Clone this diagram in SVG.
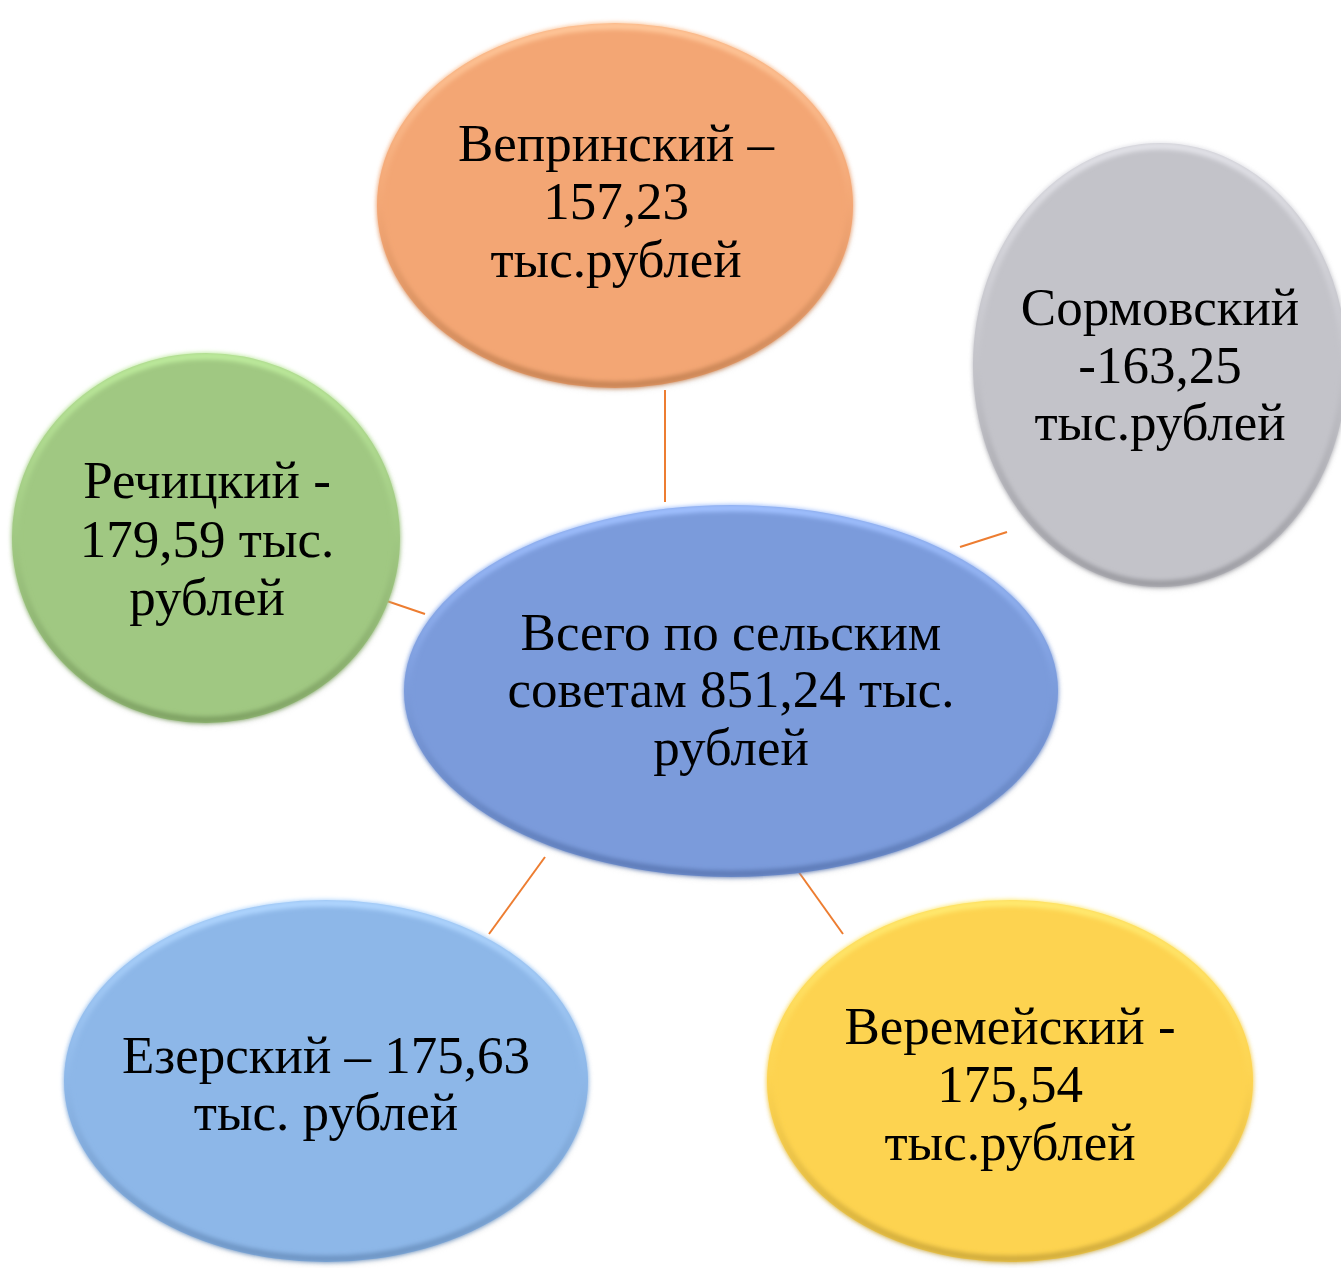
<svg xmlns="http://www.w3.org/2000/svg" width="1341" height="1268" viewBox="0 0 1341 1268">
<style>
  .lbl { font-family: "Liberation Serif", "Times New Roman", serif; font-size: 53px; fill: #000; text-anchor: middle; }
  .conn { stroke: #ED7D31; stroke-width: 2; fill: none; }
  .rim { fill: none; stroke-width: 7; filter: url(#soft); }
</style>
<defs>
  <filter id="soft" x="-10%" y="-10%" width="120%" height="120%"><feGaussianBlur stdDeviation="2.2"/></filter>
  <filter id="shadow" x="-10%" y="-10%" width="120%" height="125%"><feGaussianBlur stdDeviation="3"/></filter>
  <linearGradient id="rimOrange" x1="0" y1="0" x2="0" y2="1"><stop offset="0" stop-color="#FFC79A"/><stop offset="0.5" stop-color="#F3A674"/><stop offset="1" stop-color="#C98556"/></linearGradient>
  <linearGradient id="rimGray" x1="0" y1="0" x2="0" y2="1"><stop offset="0" stop-color="#E2E2E8"/><stop offset="0.5" stop-color="#C3C3C9"/><stop offset="1" stop-color="#9C9CA2"/></linearGradient>
  <linearGradient id="rimGreen" x1="0" y1="0" x2="0" y2="1"><stop offset="0" stop-color="#BDEB9C"/><stop offset="0.5" stop-color="#A0C882"/><stop offset="1" stop-color="#7FA264"/></linearGradient>
  <linearGradient id="rimBlue" x1="0" y1="0" x2="0" y2="1"><stop offset="0" stop-color="#A0C0FF"/><stop offset="0.5" stop-color="#7B9BDB"/><stop offset="1" stop-color="#5E7CB8"/></linearGradient>
  <linearGradient id="rimLBlue" x1="0" y1="0" x2="0" y2="1"><stop offset="0" stop-color="#B0D6FF"/><stop offset="0.5" stop-color="#8DB7E8"/><stop offset="1" stop-color="#6E95C4"/></linearGradient>
  <linearGradient id="rimYellow" x1="0" y1="0" x2="0" y2="1"><stop offset="0" stop-color="#FFEA70"/><stop offset="0.5" stop-color="#FDD350"/><stop offset="1" stop-color="#D1AC3C"/></linearGradient>
</defs>

<g id="connectors">
  <line class="conn" x1="665" y1="390" x2="665" y2="502"/>
  <line class="conn" x1="960" y1="547" x2="1007" y2="532"/>
  <line class="conn" x1="378" y1="598" x2="425" y2="614"/>
  <line class="conn" x1="545" y1="857" x2="489" y2="934"/>
  <line class="conn" x1="788" y1="857" x2="843" y2="934"/>
</g>

<g id="node-veprin">
  <ellipse cx="616" cy="208" rx="237" ry="182" fill="#C0C0C0" opacity="0.35" filter="url(#shadow)"/>
  <ellipse cx="615" cy="205.5" rx="238" ry="182.5" fill="#F3A674"/>
  <ellipse class="rim" cx="615" cy="205.5" rx="235" ry="179.5" stroke="url(#rimOrange)"/>
  <text class="lbl" x="616" y="161">Вепринский –</text>
  <text class="lbl" x="616" y="219">157,23</text>
  <text class="lbl" x="616" y="277">тыс.рублей</text>
</g>

<g id="node-sormov">
  <ellipse cx="1161" cy="368" rx="186" ry="221" fill="#C0C0C0" opacity="0.35" filter="url(#shadow)"/>
  <ellipse cx="1160" cy="365" rx="187" ry="222" fill="#C3C3C9"/>
  <ellipse class="rim" cx="1160" cy="365" rx="184" ry="219" stroke="url(#rimGray)"/>
  <text class="lbl" x="1160" y="325">Сормовский</text>
  <text class="lbl" x="1160" y="383">-163,25</text>
  <text class="lbl" x="1160" y="440">тыс.рублей</text>
</g>

<g id="node-rechits">
  <ellipse cx="207" cy="541" rx="193" ry="184" fill="#C0C0C0" opacity="0.35" filter="url(#shadow)"/>
  <ellipse cx="206" cy="538" rx="194" ry="185" fill="#A0C882"/>
  <ellipse class="rim" cx="206" cy="538" rx="191" ry="182" stroke="url(#rimGreen)"/>
  <text class="lbl" x="207" y="498">Речицкий -</text>
  <text class="lbl" x="207" y="557">179,59 тыс.</text>
  <text class="lbl" x="207" y="615">рублей</text>
</g>

<g id="node-total">
  <ellipse cx="732" cy="694" rx="326" ry="185" fill="#C0C0C0" opacity="0.35" filter="url(#shadow)"/>
  <ellipse cx="731" cy="691" rx="327" ry="186" fill="#7B9BDB"/>
  <ellipse class="rim" cx="731" cy="691" rx="324" ry="183" stroke="url(#rimBlue)"/>
  <text class="lbl" x="731" y="650">Всего по сельским</text>
  <text class="lbl" x="731" y="707">советам 851,24 тыс.</text>
  <text class="lbl" x="731" y="765">рублей</text>
</g>

<g id="node-ezersk">
  <ellipse cx="327" cy="1084" rx="261" ry="180" fill="#C0C0C0" opacity="0.35" filter="url(#shadow)"/>
  <ellipse cx="326" cy="1081" rx="262" ry="181" fill="#8DB7E8"/>
  <ellipse class="rim" cx="326" cy="1081" rx="259" ry="178" stroke="url(#rimLBlue)"/>
  <text class="lbl" x="326" y="1073">Езерский – 175,63</text>
  <text class="lbl" x="326" y="1130">тыс. рублей</text>
</g>

<g id="node-veremei">
  <ellipse cx="1011" cy="1084" rx="242" ry="180" fill="#C0C0C0" opacity="0.35" filter="url(#shadow)"/>
  <ellipse cx="1010" cy="1081" rx="243" ry="181" fill="#FDD350"/>
  <ellipse class="rim" cx="1010" cy="1081" rx="240" ry="178" stroke="url(#rimYellow)"/>
  <text class="lbl" x="1010" y="1044">Веремейский -</text>
  <text class="lbl" x="1010" y="1102">175,54</text>
  <text class="lbl" x="1010" y="1160">тыс.рублей</text>
</g>
</svg>
